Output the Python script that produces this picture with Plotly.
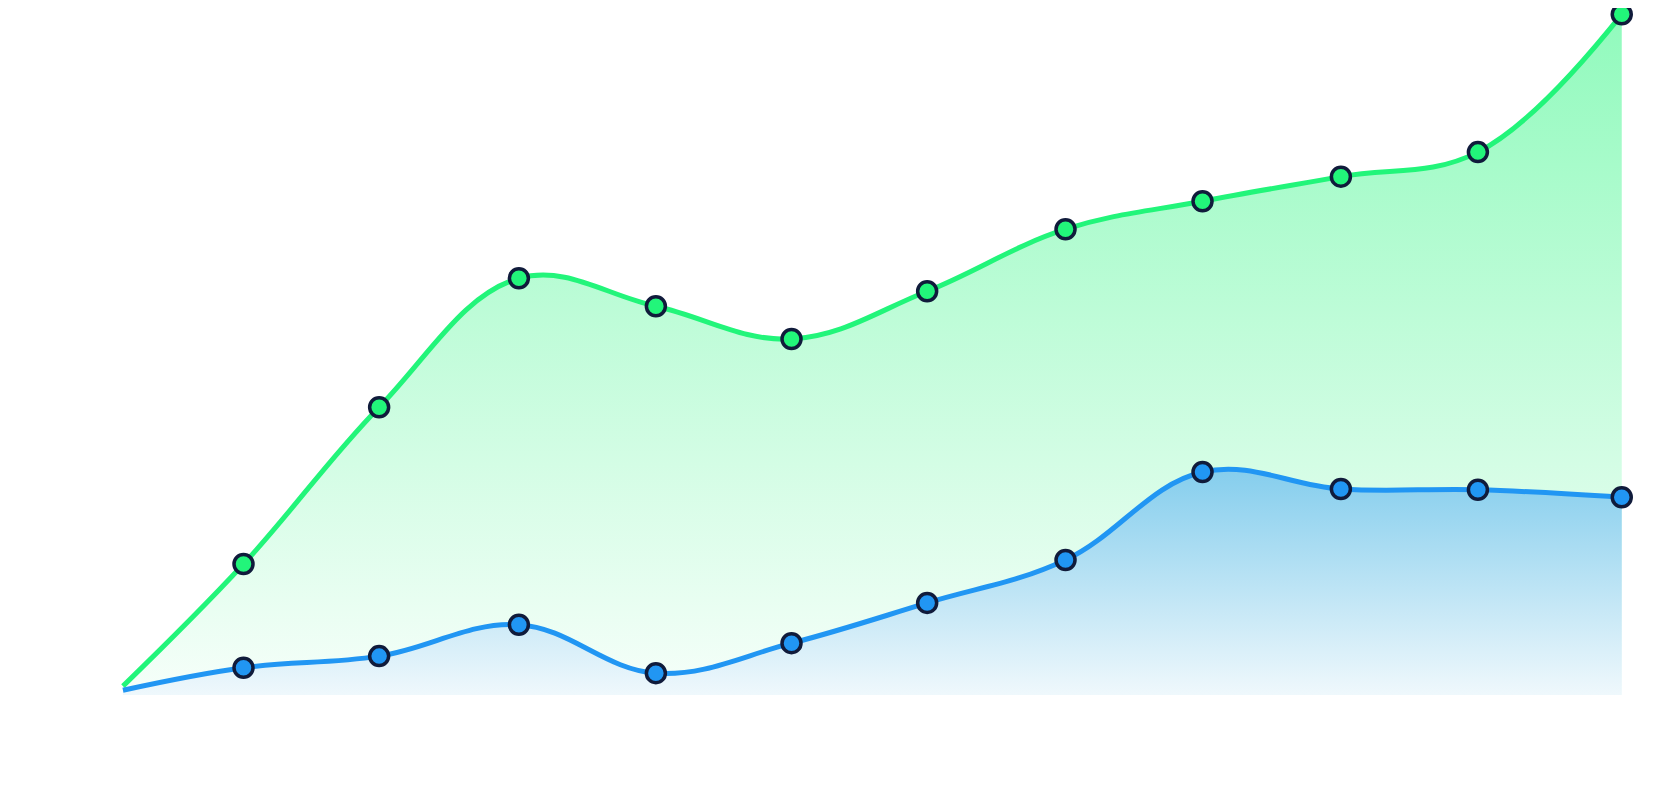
import plotly.graph_objects as go

# Data
x_pos = [0, 0.88, 1.87, 2.89, 3.89, 4.88, 5.87, 6.88, 7.88, 8.89, 9.89, 10.94]
green_vals = [1.3, 19.2, 42.2, 61.1, 57.0, 52.2, 59.2, 68.3, 72.4, 76.0, 79.6, 99.8]
blue_vals = [0.7, 4.0, 5.7, 10.3, 3.2, 7.6, 13.5, 19.8, 32.7, 30.2, 30.1, 29.0]

GREEN = "#22f57a"
BLUE = "#2196f3"
OUTLINE = "#101b3b"

fig = go.Figure()

fig.add_trace(go.Scatter(
    x=x_pos, y=green_vals, mode="lines",
    line=dict(color=GREEN, width=5, shape="spline", smoothing=1.1),
    fill="tozeroy",
    fillgradient=dict(type="vertical", start=0, stop=max(green_vals),
                      colorscale=[[0, "rgba(34,245,122,0.04)"], [1, "rgba(34,245,122,0.5)"]]),
    hoverinfo="skip",
))
fig.add_trace(go.Scatter(
    x=x_pos, y=blue_vals, mode="lines",
    line=dict(color=BLUE, width=5, shape="spline", smoothing=1.1),
    fill="tozeroy",
    fillgradient=dict(type="vertical", start=0, stop=max(blue_vals),
                      colorscale=[[0, "rgb(239,248,252)"], [1, "rgb(134,206,237)"]]),
    hoverinfo="skip",
))
fig.add_trace(go.Scatter(
    x=x_pos[1:], y=green_vals[1:], mode="markers",
    marker=dict(size=19, color=GREEN, line=dict(color=OUTLINE, width=3.5)),
    cliponaxis=False,
))
fig.add_trace(go.Scatter(
    x=x_pos[1:], y=blue_vals[1:], mode="markers",
    marker=dict(size=19, color=BLUE, line=dict(color=OUTLINE, width=3.5)),
    cliponaxis=False,
))

fig.update_layout(
    width=1658, height=788,
    margin=dict(l=0, r=0, t=0, b=0),
    paper_bgcolor="white", plot_bgcolor="white",
    showlegend=False,
    xaxis=dict(range=[-0.839, 11.263], visible=False, showgrid=False, zeroline=False),
    yaxis=dict(range=[-14.81, 100.73], visible=False, showgrid=False, zeroline=False),
)

fig.write_html("out.html")
